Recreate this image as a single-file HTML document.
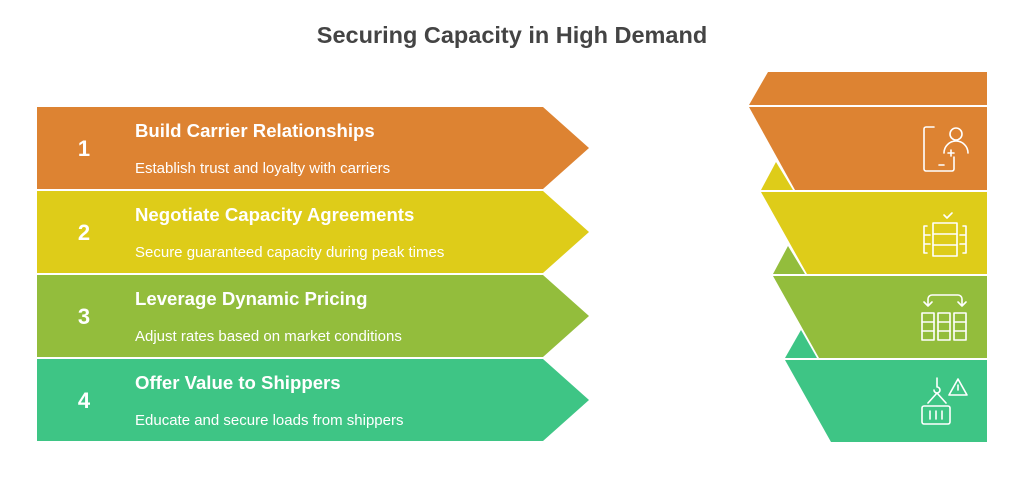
<!DOCTYPE html>
<html><head><style>
body{margin:0;background:#fff;width:1024px;height:482px;overflow:hidden;font-family:"Liberation Sans",sans-serif}
</style></head><body>
<svg width="1024" height="482" xmlns="http://www.w3.org/2000/svg" font-family="Liberation Sans, sans-serif">
<text x="512" y="43" text-anchor="middle" font-size="23.5" font-weight="bold" fill="#444">Securing Capacity in High Demand</text>
<polygon points="37,107 543,107 589,148 543,189 37,189" fill="#DD8332"/>
<polygon points="37,191 543,191 589,232 543,273 37,273" fill="#DECC19"/>
<polygon points="37,275 543,275 589,316 543,357 37,357" fill="#93BD3C"/>
<polygon points="37,359 543,359 589,400 543,441 37,441" fill="#3EC585"/>
<g fill="#fff" font-weight="bold">
<text x="84" y="156" font-size="22" text-anchor="middle">1</text>
<text x="84" y="240" font-size="22" text-anchor="middle">2</text>
<text x="84" y="324" font-size="22" text-anchor="middle">3</text>
<text x="84" y="408" font-size="22" text-anchor="middle">4</text>
<text x="135" y="137" font-size="18.6">Build Carrier Relationships</text>
<text x="135" y="221" font-size="18.6">Negotiate Capacity Agreements</text>
<text x="135" y="305" font-size="18.6">Leverage Dynamic Pricing</text>
<text x="135" y="389" font-size="18.6">Offer Value to Shippers</text>
</g>
<g fill="#fff" font-size="15">
<text x="135" y="173">Establish trust and loyalty with carriers</text>
<text x="135" y="257">Secure guaranteed capacity during peak times</text>
<text x="135" y="341">Adjust rates based on market conditions</text>
<text x="135" y="425">Educate and secure loads from shippers</text>
</g>
<polygon points="768,72 987,72 987,105 749,105" fill="#DD8332"/>
<polygon points="749,107 987,107 987,190 795,190" fill="#DD8332"/>
<polygon points="776,162 793,190 761,190" fill="#DECC19"/>
<polygon points="761,192 987,192 987,274 807,274" fill="#DECC19"/>
<polygon points="788,246 805,274 773,274" fill="#93BD3C"/>
<polygon points="773,276 987,276 987,358 819,358" fill="#93BD3C"/>
<polygon points="801,330 817,358 785,358" fill="#3EC585"/>
<polygon points="785,360 987,360 987,442 831,442" fill="#3EC585"/>
<g fill="none" stroke="#fff" stroke-width="1.6" stroke-linecap="round" stroke-linejoin="round">
<path d="M934,127 h-8 a2,2 0 0 0 -2,2 v40 a2,2 0 0 0 2,2 h26 a2,2 0 0 0 2,-2 v-12"/>
<circle cx="956" cy="134" r="6"/><path d="M944,153 a12,12 0 0 1 24,0"/>
<path d="M951,150 v6 M948,153 h6 M939,165 h5"/>
<path d="M944,215 l3,3 5,-5"/>
<rect x="933" y="223" width="24" height="33"/><path d="M933,234 h24 M933,245 h24"/>
<path d="M927,226 h-3 v27 h3 M924,235 h6 M924,244 h6 M963,226 h3 v27 h-3 M966,235 h-6 M966,244 h-6"/>
<path d="M928,306 v-7 a4,4 0 0 1 4,-4 h26 a4,4 0 0 1 4,4 v7 M924,302 l4,4 4,-4 M958,302 l4,4 4,-4"/>
<rect x="922" y="313" width="12" height="27"/><rect x="938" y="313" width="12" height="27"/><rect x="954" y="313" width="12" height="27"/>
<path d="M922,322 h12 M922,331 h12 M938,322 h12 M938,331 h12 M954,322 h12 M954,331 h12"/>
<path d="M937,378 v9 a3,3 0 1 1 -3,3 M937,393 l-9,10 M937,393 l9,10"/>
<rect x="922" y="406" width="28" height="18" rx="2"/><path d="M930,411 v8 M936,411 v8 M942,411 v8"/>
<path d="M958,379 l-9,16 h18 z M958,385 v5"/>
</g>
</svg>
</body></html>
